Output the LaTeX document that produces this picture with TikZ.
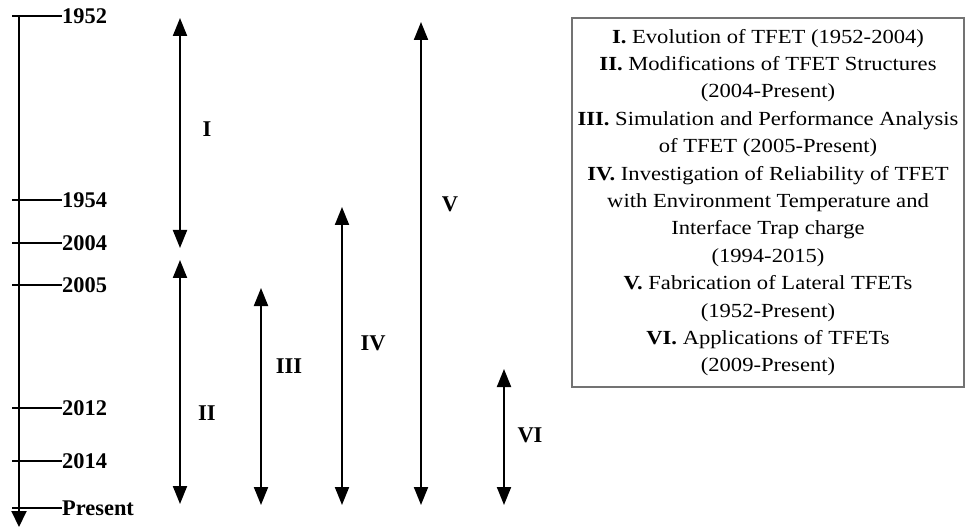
\documentclass[tikz,border=0pt]{standalone}
\usepackage{fontspec}
\setmainfont{Liberation Serif}
\newfontfamily\legendfont[FakeStretch=1.13]{Liberation Serif}
\usetikzlibrary{arrows.meta}
\begin{document}
\begin{tikzpicture}[x=1pt,y=-1pt,
  axisline/.style={line width=2pt,-{Triangle[width=15pt,length=16pt]}},
  tickline/.style={line width=1.8pt},
  span/.style={line width=2pt,{Triangle[width=14pt,length=18pt]}-{Triangle[width=14pt,length=18pt]}},
  yearlbl/.style={anchor=west,inner sep=0pt,font=\fontsize{22.4}{26}\selectfont\bfseries},
  romanlbl/.style={inner sep=0pt,font=\fontsize{22.5}{26}\selectfont\bfseries},
  legendbox/.style={draw=black!55,line width=2pt,minimum width=392pt,minimum height=369pt,inner sep=0pt,align=center,font=\legendfont\fontsize{20}{27.4}\selectfont}]
\useasboundingbox (0,0) rectangle (966,529);
% timeline axis
\coordinate (top) at (19,16);
\coordinate (bot) at (19,527);
\draw[axisline] (top) -- (bot);
% ticks and years
\foreach \n/\y/\t in {a/16/1952,b/200/1954,c/243/2004,d/285/2005,e/408/2012,f/461/2014,g/508/Present}{
  \coordinate (t\n) at (12,\y);
  \node[yearlbl] (y\n) at (62,\y) {\t};
  \draw[tickline] (t\n) -- (y\n.west);
}
% span arrows
\coordinate (Ia) at (180,18);  \coordinate (Ib) at (180,248);
\coordinate (IIa) at (180,260); \coordinate (IIb) at (180,504);
\coordinate (IIIa) at (261,288); \coordinate (IIIb) at (261,505);
\coordinate (IVa) at (342,207); \coordinate (IVb) at (342,505);
\coordinate (Va) at (421,22); \coordinate (Vb) at (421,505);
\coordinate (VIa) at (504,369); \coordinate (VIb) at (504,505);
\draw[span] (Ia) -- (Ib);
\draw[span] (IIa) -- (IIb);
\draw[span] (IIIa) -- (IIIb);
\draw[span] (IVa) -- (IVb);
\draw[span] (Va) -- (Vb);
\draw[span] (VIa) -- (VIb);
\node[romanlbl] (lI) at (207,129) {I};
\node[romanlbl] (lII) at (207,413) {II};
\node[romanlbl] (lIII) at (289,366) {III};
\node[romanlbl] (lIV) at (373,343) {IV};
\node[romanlbl] (lV) at (450,204) {V};
\node[romanlbl] (lVI) at (530,435) {VI};
% legend
\node[legendbox] (legend) at (768,202.5) {%
\textbf{I.} Evolution of TFET (1952-2004)\\
\textbf{II.} Modifications of TFET Structures\\
(2004-Present)\\
\textbf{III.} Simulation and Performance Analysis\\
of TFET (2005-Present)\\
\textbf{IV.} Investigation of Reliability of TFET\\
with Environment Temperature and\\
Interface Trap charge\\
(1994-2015)\\
\textbf{V.} Fabrication of Lateral TFETs\\
(1952-Present)\\
\textbf{VI.} Applications of TFETs\\
(2009-Present)};
\end{tikzpicture}
\end{document}
